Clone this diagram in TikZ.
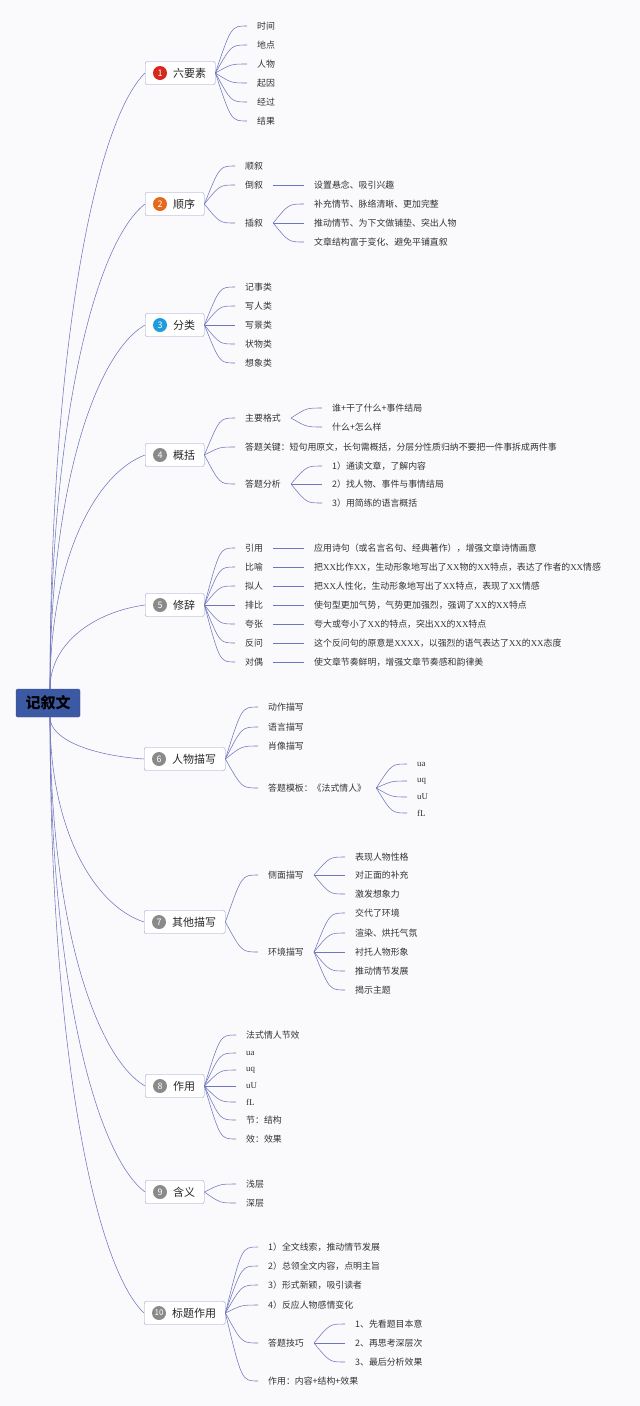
\documentclass[tikz,border=0pt]{standalone}
\usepackage{fontspec}
\setmainfont{Noto Sans CJK SC}
\newfontfamily\latinrm{Liberation Serif}
\newcommand{\XX}{{\latinrm XX}}
\newcommand{\lat}[1]{{\latinrm #1}}
\usetikzlibrary{calc}

\definecolor{bgcol}{RGB}{250,250,252}
\definecolor{rootblue}{RGB}{60,90,164}
\definecolor{boxline}{RGB}{150,156,200}
\definecolor{linkblue}{RGB}{112,118,190}
\definecolor{red1}{RGB}{214,40,28}
\definecolor{orange1}{RGB}{229,104,28}
\definecolor{blue1}{RGB}{30,156,222}
\definecolor{gray1}{RGB}{138,138,138}

\tikzset{
  root/.style={fill=rootblue, draw=rootblue!85!black, rounded corners=1.5pt,
    minimum width=64pt, minimum height=28pt, text=black,
    font=\bfseries\fontsize{15}{15}\selectfont},
  topic/.style={draw=boxline, fill=white, rounded corners=2pt, anchor=west,
    minimum height=23pt, inner xsep=9pt, text=black!85,
    font=\fontsize{11}{13}\selectfont},
  badge/.style={circle, fill=#1, text=white, minimum size=14pt, inner sep=0pt,
    font=\fontsize{9}{9}\selectfont},
  leaf/.style={anchor=west, inner xsep=10pt, inner ysep=1pt, text=black!80,
    font=\fontsize{8.9}{10}\selectfont},
  trunk/.style={draw=linkblue, line width=0.55pt},
  fan/.style={draw=linkblue, line width=0.55pt,
    to path={let \p1=(\tikztostart), \p2=(\tikztotarget) in
      .. controls ({\x1+0.5*(\x2-\x1)},\y2) .. (\tikztotarget)}},
}

\begin{document}
\begin{tikzpicture}[x=1pt,y=1pt]
  % page
  \fill[bgcol] (0,0) rectangle (640,-1406);
  \useasboundingbox (0,0) rectangle (640,-1406);
  % root
  \node[root] (root) at (48,-703) {记叙文};
  % topics
  \node[topic] (t1) at (145,-73) {\hspace*{19pt}六要素};
  \node[topic] (t2) at (145,-204) {\hspace*{19pt}顺序};
  \node[topic] (t3) at (145,-325) {\hspace*{19pt}分类};
  \node[topic] (t4) at (145,-455) {\hspace*{19pt}概括};
  \node[topic] (t5) at (145,-605) {\hspace*{19pt}修辞};
  \node[topic] (t6) at (144,-759) {\hspace*{19pt}人物描写};
  \node[topic] (t7) at (144,-922) {\hspace*{19pt}其他描写};
  \node[topic] (t8) at (145,-1086) {\hspace*{19pt}作用};
  \node[topic] (t9) at (145,-1192) {\hspace*{19pt}含义};
  \node[topic] (t10) at (144,-1313) {\hspace*{19pt}标题作用};
  % badges
  \foreach \t/\c/\k in {t1/red1/1, t2/orange1/2, t3/blue1/3, t4/gray1/4,
      t5/gray1/5, t6/gray1/6, t7/gray1/7, t8/gray1/8, t9/gray1/9}
    \node[badge=\c] (b\k) at ([xshift=15pt]\t.west) {\k};
  \node[badge=gray1, font=\fontsize{8}{8}\selectfont] (b10) at ([xshift=15pt]t10.west) {10};
  % trunks
  \foreach \t/\d in {t1/616, t2/485, t3/364, t4/234, t5/84}
    \draw[trunk] ([xshift=2pt]root.north) .. controls +(0,0.55*\d) and +(-50,-0.08*\d) .. (\t.west);
  \foreach \t/\d in {t6/42, t7/205, t8/369, t9/475, t10/596}
    \draw[trunk] ([xshift=2pt]root.south) .. controls +(0,-0.55*\d) and +(-50,0.08*\d) .. (\t.west);

  % 1 six elements
  \foreach \nm/\yy/\s in {a1/26/时间, a2/45/地点, a3/64/人物, a4/83/起因, a5/102/经过, a6/121/结果}{
    \node[leaf] (\nm) at (247,-\yy) {\s};
    \draw[fan] (t1.east) to (\nm.west);
  }
  % 2 order
  \foreach \nm/\yy/\s in {o1/166/顺叙, o2/185/倒叙, o3/223/插叙}{
    \node[leaf] (\nm) at (235,-\yy) {\s};
    \draw[fan] (t2.east) to (\nm.west);
  }
  \node[leaf] (o21) at (304,-185) {设置悬念、吸引兴趣};
  \draw[fan] (o2.east) to (o21.west);
  \foreach \nm/\yy/\s in {o31/204/补充情节、脉络清晰、更加完整, o32/223/推动情节、为下文做铺垫、突出人物,
      o33/242/文章结构富于变化、避免平铺直叙}{
    \node[leaf] (\nm) at (304,-\yy) {\s};
    \draw[fan] (o3.east) to (\nm.west);
  }
  % 3 kinds
  \foreach \nm/\yy/\s in {k1/287/记事类, k2/306/写人类, k3/325/写景类, k4/344/状物类, k5/363/想象类}{
    \node[leaf] (\nm) at (235,-\yy) {\s};
    \draw[fan] (t3.east) to (\nm.west);
  }
  % 4 summary
  \node[leaf] (g1) at (235,-418) {主要格式};
  \node[leaf] (g2) at (235,-447) {答题关键：短句用原文，长句需概括，分层分性质归纳不要把一件事拆成两件事};
  \node[leaf] (g3) at (235,-484) {答题分析};
  \foreach \nm in {g1,g2,g3}
    \draw[fan] (t4.east) to (\nm.west);
  \foreach \nm/\yy/\s in {g11/408/谁+干了什么+事件结局, g12/427/什么+怎么样}{
    \node[leaf] (\nm) at (322,-\yy) {\s};
    \draw[fan] (g1.east) to (\nm.west);
  }
  \foreach \nm/\yy/\s in {g31/466/1）通读文章，了解内容, g32/484/2）找人物、事件与事情结局,
      g33/503/3）用简练的语言概括}{
    \node[leaf] (\nm) at (322,-\yy) {\s};
    \draw[fan] (g3.east) to (\nm.west);
  }
  % 5 rhetoric
  \foreach \nm/\yy/\s/\e in {
      r1/548/引用/应用诗句（或名言名句、经典著作），增强文章诗情画意,
      r2/567/比喻/把\XX 比作\XX ，生动形象地写出了\XX 物的\XX 特点，表达了作者的\XX 情感,
      r3/586/拟人/把\XX 人性化，生动形象地写出了\XX 特点，表现了\XX 情感,
      r4/605/排比/使句型更加气势，气势更加强烈，强调了\XX 的\XX 特点,
      r5/624/夸张/夸大或夸小了\XX 的特点，突出\XX 的\XX 特点,
      r6/643/反问/这个反问句的原意是\XX\XX ，以强烈的语气表达了\XX 的\XX 态度,
      r7/662/对偶/使文章节奏鲜明，增强文章节奏感和韵律美}{
    \node[leaf] (\nm) at (235,-\yy) {\s};
    \node[leaf] (\nm e) at (304,-\yy) {\e};
    \draw[fan] (t5.east) to (\nm.west);
    \draw[fan] (\nm.east) to (\nm e.west);
  }
  % 6 characters
  \foreach \nm/\yy/\s in {p1/707/动作描写, p2/727/语言描写, p3/746/肖像描写, p4/788/答题模板：《法式情人》}{
    \node[leaf] (\nm) at (258,-\yy) {\s};
    \draw[fan] (t6.east) to (\nm.west);
  }
  \foreach \nm/\yy/\s in {p41/764/ua, p42/781/uq, p43/797/uU, p44/813/fL}{
    \node[leaf] (\nm) at (407,-\yy) {\lat{\s}};
    \draw[fan] (p4.east) to (\nm.west);
  }
  % 7 other
  \node[leaf] (s1) at (258,-875) {侧面描写};
  \node[leaf] (s2) at (258,-952) {环境描写};
  \foreach \nm in {s1,s2}
    \draw[fan] (t7.east) to (\nm.west);
  \foreach \nm/\yy/\s in {s11/857/表现人物性格, s12/875/对正面的补充, s13/894/激发想象力}{
    \node[leaf] (\nm) at (345,-\yy) {\s};
    \draw[fan] (s1.east) to (\nm.west);
  }
  \foreach \nm/\yy/\s in {s21/913/交代了环境, s22/933/渲染、烘托气氛, s23/952/衬托人物形象,
      s24/971/推动情节发展, s25/990/揭示主题}{
    \node[leaf] (\nm) at (345,-\yy) {\s};
    \draw[fan] (s2.east) to (\nm.west);
  }
  % 8 function
  \foreach \nm/\yy/\s in {f1/1035/法式情人节效, f2/1053/\lat{ua}, f3/1070/\lat{uq}, f4/1086/\lat{uU},
      f5/1102/\lat{fL}, f6/1120/节：结构, f7/1139/效：效果}{
    \node[leaf] (\nm) at (236,-\yy) {\s};
    \draw[fan] (t8.east) to (\nm.west);
  }
  % 9 meaning
  \foreach \nm/\yy/\s in {m1/1184/浅层, m2/1203/深层}{
    \node[leaf] (\nm) at (236,-\yy) {\s};
    \draw[fan] (t9.east) to (\nm.west);
  }
  % 10 title
  \foreach \nm/\yy/\s in {h1/1247/1）全文线索，推动情节发展, h2/1266/2）总领全文内容，点明主旨,
      h3/1285/3）形式新颖，吸引读者, h4/1305/4）反应人物感情变化, h5/1343/答题技巧,
      h6/1381/作用：内容+结构+效果}{
    \node[leaf] (\nm) at (258,-\yy) {\s};
    \draw[fan] (t10.east) to (\nm.west);
  }
  \foreach \nm/\yy/\s in {h51/1324/1、先看题目本意, h52/1343/2、再思考深层次, h53/1362/3、最后分析效果}{
    \node[leaf] (\nm) at (345,-\yy) {\s};
    \draw[fan] (h5.east) to (\nm.west);
  }
\end{tikzpicture}
\end{document}
